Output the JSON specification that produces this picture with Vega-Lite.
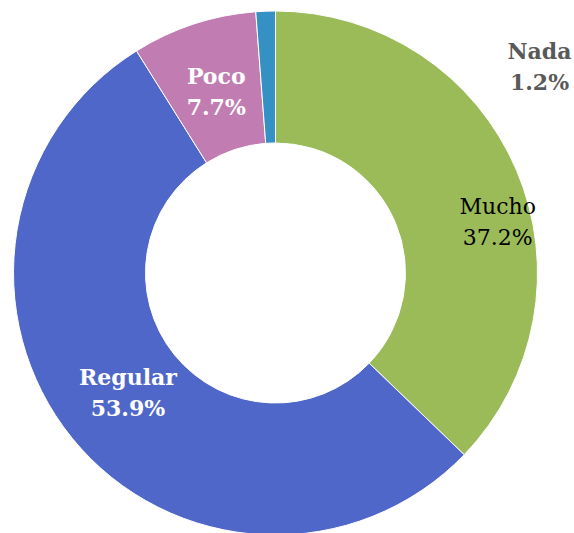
{
  "$schema": "https://vega.github.io/schema/vega-lite/v6.json",
  "width": 551,
  "height": 546,
  "padding": {"left": 0, "top": 0, "right": 23, "bottom": 0},
  "autosize": {"type": "none"},
  "background": "white",
  "view": {"stroke": null},
  "data": {
    "values": [
      {"cat": "Mucho", "pct": 37.2, "orden": 1},
      {"cat": "Regular", "pct": 53.9, "orden": 2},
      {"cat": "Poco", "pct": 7.7, "orden": 3},
      {"cat": "Nada", "pct": 1.2, "orden": 4}
    ]
  },
  "transform": [
    {"calculate": "[datum.cat, format(datum.pct, '.1f') + '%']", "as": "lbl"}
  ],
  "encoding": {
    "theta": {"field": "pct", "type": "quantitative", "stack": true},
    "order": {"field": "orden", "type": "quantitative"}
  },
  "layer": [
    {
      "mark": {"type": "arc", "outerRadius": 262, "innerRadius": 130, "stroke": "white", "strokeWidth": 1},
      "encoding": {
        "color": {
          "field": "cat", "type": "nominal", "legend": null,
          "scale": {"domain": ["Mucho", "Regular", "Poco", "Nada"], "range": ["#9BBB59", "#4F67C8", "#C17DB2", "#3591C4"]}
        }
      }
    },
    {
      "mark": {"type": "text", "radius": 190, "dy": -15, "font": "DejaVu Serif", "fontSize": 22, "fontWeight": "bold", "fill": "white", "lineHeight": 31, "baseline": "middle", "align": "center"},
      "encoding": {
        "text": {"condition": {"test": "datum.cat === 'Regular' || datum.cat === 'Poco'", "field": "lbl"}, "value": ""}
      }
    },
    {
      "transform": [{"filter": "datum.cat === 'Mucho'"}],
      "mark": {"type": "text", "radius": 228, "theta": 1.345, "dy": -15, "font": "DejaVu Serif", "fontSize": 22, "fill": "black", "lineHeight": 31, "baseline": "middle", "align": "center"},
      "encoding": {"text": {"field": "lbl"}, "theta": null}
    },
    {
      "transform": [{"filter": "datum.cat === 'Nada'"}],
      "mark": {"type": "text", "radius": 335, "theta": 0.9076, "dy": -15, "font": "DejaVu Serif", "fontSize": 22, "fontWeight": "bold", "fill": "#595959", "lineHeight": 31, "baseline": "middle", "align": "center"},
      "encoding": {"text": {"field": "lbl"}, "theta": null}
    }
  ]
}
